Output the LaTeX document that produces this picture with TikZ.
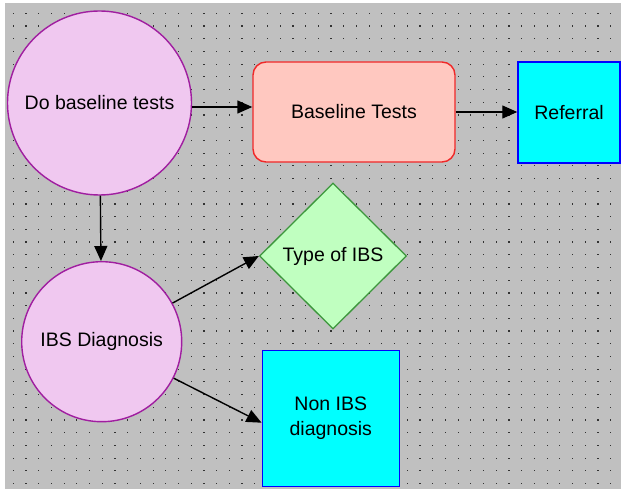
\documentclass[tikz,border=0pt]{standalone}
\usepackage{fontspec}
\setmainfont{Liberation Sans}
\usetikzlibrary{shapes.geometric,arrows.meta}

\definecolor{canvasgrey}{RGB}{192,192,192}
\definecolor{dotgrey}{RGB}{50,50,50}
\definecolor{taskfill}{RGB}{240,200,240}
\definecolor{taskline}{RGB}{160,30,160}
\definecolor{procfill}{RGB}{255,200,192}
\definecolor{procline}{RGB}{240,40,40}
\definecolor{decfill}{RGB}{192,255,192}
\definecolor{decline}{RGB}{60,150,60}
\definecolor{outfill}{RGB}{0,255,255}
\definecolor{outline}{RGB}{0,0,255}

\tikzset{
  x=1pt, y=-1pt,
  lbl/.style={font=\fontsize{19.5}{25}\selectfont, text=black, align=center, inner sep=0pt},
  taskcircle/.style={lbl, circle, draw=taskline, fill=taskfill, line width=1.4pt},
  procbox/.style={lbl, rectangle, rounded corners=13pt, draw=procline, fill=procfill, line width=1.4pt},
  decbox/.style={lbl, diamond, draw=decline, fill=decfill, line width=1.3pt},
  outbox/.style={lbl, rectangle, draw=outline, fill=outfill, line width=1.5pt},
  arr/.style={draw=black, line width=1.4pt, -{Triangle[length=15pt,width=13pt]}}
}

\begin{document}
\begin{tikzpicture}
  % page and dotted canvas
  \useasboundingbox (0,0) rectangle (621,492);
  \fill[white] (0,0) rectangle (621,492);
  \fill[canvasgrey] (5,3) rectangle (621,489);
  \foreach \i in {0,...,47} {
    \foreach \j in {0,...,37} {
      \fill[dotgrey] ({12.7+12.71*\i},{12.7+12.71*\j}) rectangle +(1.2,1.2);
    }
  }

  % nodes
  \node[taskcircle, minimum size=184pt] (c1) at (99.5,103) {Do baseline tests};
  \node[procbox, minimum width=202pt, minimum height=100pt] (bt) at (354,112) {Baseline Tests};
  \node[outbox, minimum width=102pt, minimum height=101pt] (ref) at (569,112.5) {Referral};
  \node[taskcircle, minimum size=160pt] (c2) at (101.7,341.7) {IBS Diagnosis};
  \node[decbox, minimum width=147pt, minimum height=146pt] (dia) at (333,256) {Type of IBS};
  \node[outbox, minimum width=137pt, minimum height=136pt] (nb) at (330.8,418.7) {Non IBS\\diagnosis};

  % connectors
  \draw[arr] ([yshift=-4pt]c1.east) -- ([yshift=-4pt]c1.east -| bt.west);
  \draw[arr] (bt.east) -- (bt.east -| ref.west);
  \draw[arr] (c1) -- (c2);
  \draw[arr] (c2) -- (dia.west);
  \draw[arr] (c2) -- ([yshift=-4pt]nb.west);
\end{tikzpicture}
\end{document}
